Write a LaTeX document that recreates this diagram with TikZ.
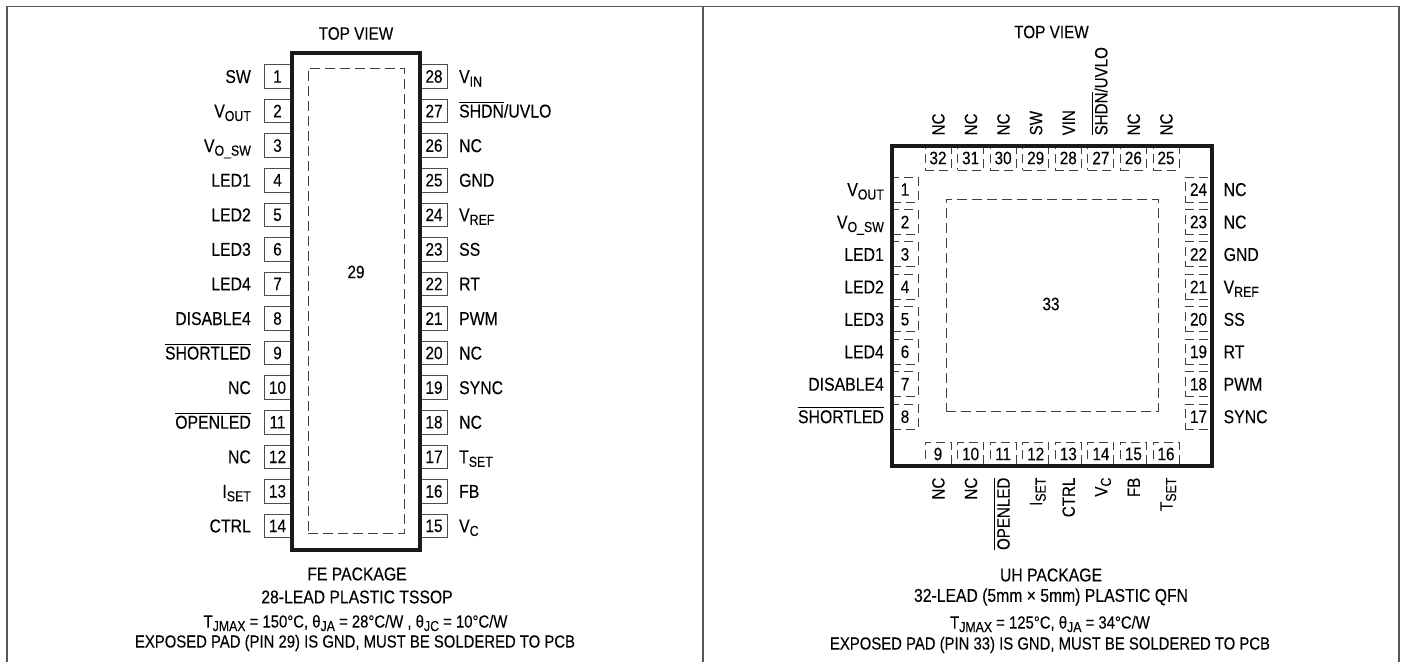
\documentclass[tikz,border=0pt]{standalone}
\usepackage{fontspec}
\usepackage{tikz}
\setmainfont[FakeStretch=0.85,FakeBold=0.12]{Liberation Sans}
\newsavebox{\barbox}
\newcommand{\pinsub}[1]{\raisebox{-3.5pt}{\fontsize{14.5}{15}\selectfont #1}}
\newcommand{\pinbar}[1]{\sbox{\barbox}{#1}\rlap{\rule[15pt]{\wd\barbox}{0.9pt}}#1}

\begin{document}
\begin{tikzpicture}[x=1pt,y=-1pt,
    every node/.style={font=\fontsize{18}{20}\selectfont, text=black},
    frameline/.style={draw=black!65, line width=1.4pt},
    pinlabel/.style={inner sep=0pt, text height=13pt, text depth=0pt, font=\fontsize{18.6}{20}\selectfont},
    felabel/.style={pinlabel, label distance=12.5pt},
    uhleft/.style={pinlabel, label distance=7.5pt},
    rightlabel/.style={pinlabel, label distance=11pt},
    uplabel/.style={pinlabel, rotate=90, anchor=west, xshift=10pt, font=\fontsize{17.8}{20}\selectfont},
    downlabel/.style={pinlabel, rotate=90, anchor=east, xshift=-11pt, font=\fontsize{17.8}{20}\selectfont},
    tssoppin/.style={rectangle, draw=black!70, line width=0.9pt, inner sep=0pt, minimum width=27pt, minimum height=23.5pt},
    qfnpin/.style={rectangle, draw=black!75, line width=0.9pt, dash pattern=on 9pt off 5pt, inner sep=0pt, minimum width=26pt, minimum height=25pt},
    qfnright/.style={qfnpin, minimum width=27pt},
    qfnedge/.style={qfnpin, minimum height=24pt},
    packagebody/.style={rectangle, draw=black!90, line width=3.6pt, inner sep=0pt},
    exposedpad/.style={rectangle, draw=black!75, line width=0.9pt, dash pattern=on 10pt off 5pt, inner sep=0pt},
    caption/.style={inner sep=0pt, font=\fontsize{18.5}{20}\selectfont},
    notetext/.style={inner sep=0pt, font=\fontsize{17.5}{20}\selectfont}]
   \useasboundingbox (0,0) rectangle (1403,662);
   % outer frame
   \draw[frameline] (7,662) -- (7,6.5) -- (1399,6.5) -- (1399,662);
   \draw[frameline] (703,6.5) -- (703,662);
   % FE package
   \node[inner sep=0pt] (FEview) at (356,33.5) {TOP VIEW};
   \node[tssoppin, label={[felabel]left:SW}] (P1) at (277.5,76.5) {1};
   \node[tssoppin, label={[felabel]left:{V\pinsub{OUT}}}] (P2) at (277.5,111) {2};
   \node[tssoppin, label={[felabel]left:{V\pinsub{O\_SW}}}] (P3) at (277.5,145.6) {3};
   \node[tssoppin, label={[felabel]left:LED1}] (P4) at (277.5,180.2) {4};
   \node[tssoppin, label={[felabel]left:LED2}] (P5) at (277.5,214.8) {5};
   \node[tssoppin, label={[felabel]left:LED3}] (P6) at (277.5,249.3) {6};
   \node[tssoppin, label={[felabel]left:LED4}] (P7) at (277.5,283.9) {7};
   \node[tssoppin, label={[felabel]left:DISABLE4}] (P8) at (277.5,318.5) {8};
   \node[tssoppin, label={[felabel]left:{\pinbar{SHORTLED}}}] (P9) at (277.5,353) {9};
   \node[tssoppin, label={[felabel]left:NC}] (P10) at (277.5,387.6) {10};
   \node[tssoppin, label={[felabel]left:{\pinbar{OPENLED}}}] (P11) at (277.5,422.2) {11};
   \node[tssoppin, label={[felabel]left:NC}] (P12) at (277.5,456.8) {12};
   \node[tssoppin, label={[felabel]left:{I\pinsub{SET}}}] (P13) at (277.5,491.3) {13};
   \node[tssoppin, label={[felabel]left:CTRL}] (P14) at (277.5,525.9) {14};
   \node[tssoppin, label={[rightlabel]right:{V\pinsub{C}}}] (P15) at (434,525.9) {15};
   \node[tssoppin, label={[rightlabel]right:FB}] (P16) at (434,491.3) {16};
   \node[tssoppin, label={[rightlabel]right:{T\pinsub{SET}}}] (P17) at (434,456.8) {17};
   \node[tssoppin, label={[rightlabel]right:NC}] (P18) at (434,422.2) {18};
   \node[tssoppin, label={[rightlabel]right:SYNC}] (P19) at (434,387.6) {19};
   \node[tssoppin, label={[rightlabel]right:NC}] (P20) at (434,353) {20};
   \node[tssoppin, label={[rightlabel]right:PWM}] (P21) at (434,318.5) {21};
   \node[tssoppin, label={[rightlabel]right:RT}] (P22) at (434,283.9) {22};
   \node[tssoppin, label={[rightlabel]right:SS}] (P23) at (434,249.3) {23};
   \node[tssoppin, label={[rightlabel]right:{V\pinsub{REF}}}] (P24) at (434,214.8) {24};
   \node[tssoppin, label={[rightlabel]right:GND}] (P25) at (434,180.2) {25};
   \node[tssoppin, label={[rightlabel]right:NC}] (P26) at (434,145.6) {26};
   \node[tssoppin, label={[rightlabel]right:{\pinbar{SHDN}/UVLO}}] (P27) at (434,111) {27};
   \node[tssoppin, label={[rightlabel]right:{V\pinsub{IN}}}] (P28) at (434,76.5) {28};
   \node[packagebody, minimum width=128pt, minimum height=497pt] (FEbody) at (356,301.5) {};
   \node[exposedpad, minimum width=96pt, minimum height=465pt] (FEpad) at (356,300.5) {};
   \node[inner sep=0pt] (FEnum) at (356,272) {29};
   \node[caption] (FEname) at (357,574) {FE PACKAGE};
   \node[caption] (FElead) at (357,597) {28-LEAD PLASTIC TSSOP};
   \node[notetext] (FEtherm) at (355.5,623) {T\pinsub{JMAX} = 150°C, θ\pinsub{JA} = 28°C/W , θ\pinsub{JC} = 10°C/W};
   \node[notetext] (FEnote) at (355,643) {EXPOSED PAD (PIN 29) IS GND, MUST BE SOLDERED TO PCB};
   % UH package
   \node[inner sep=0pt] (UHview) at (1051.5,32) {TOP VIEW};
   \node[qfnpin, label={[uhleft]left:{V\pinsub{OUT}}}] (Q1) at (905,189.5) {1};
   \node[qfnpin, label={[uhleft]left:{V\pinsub{O\_SW}}}] (Q2) at (905,222) {2};
   \node[qfnpin, label={[uhleft]left:LED1}] (Q3) at (905,254.4) {3};
   \node[qfnpin, label={[uhleft]left:LED2}] (Q4) at (905,286.9) {4};
   \node[qfnpin, label={[uhleft]left:LED3}] (Q5) at (905,319.3) {5};
   \node[qfnpin, label={[uhleft]left:LED4}] (Q6) at (905,351.8) {6};
   \node[qfnpin, label={[uhleft]left:DISABLE4}] (Q7) at (905,384.2) {7};
   \node[qfnpin, label={[uhleft]left:{\pinbar{SHORTLED}}}] (Q8) at (905,416.7) {8};
   \node[qfnedge, label={[downlabel]below:NC}] (Q9) at (938,454) {9};
   \node[qfnedge, label={[downlabel]below:NC}] (Q10) at (970.6,454) {10};
   \node[qfnedge, label={[downlabel]below:{\pinbar{OPENLED}}}] (Q11) at (1003.1,454) {11};
   \node[qfnedge, label={[downlabel]below:{I\pinsub{SET}}}] (Q12) at (1035.7,454) {12};
   \node[qfnedge, label={[downlabel]below:CTRL}] (Q13) at (1068.3,454) {13};
   \node[qfnedge, label={[downlabel]below:{V\pinsub{C}}}] (Q14) at (1100.9,454) {14};
   \node[qfnedge, label={[downlabel]below:FB}] (Q15) at (1133.4,454) {15};
   \node[qfnedge, label={[downlabel]below:{T\pinsub{SET}}}] (Q16) at (1166,454) {16};
   \node[qfnright, label={[rightlabel]right:SYNC}] (Q17) at (1198.5,416.7) {17};
   \node[qfnright, label={[rightlabel]right:PWM}] (Q18) at (1198.5,384.2) {18};
   \node[qfnright, label={[rightlabel]right:RT}] (Q19) at (1198.5,351.8) {19};
   \node[qfnright, label={[rightlabel]right:SS}] (Q20) at (1198.5,319.3) {20};
   \node[qfnright, label={[rightlabel]right:{V\pinsub{REF}}}] (Q21) at (1198.5,286.9) {21};
   \node[qfnright, label={[rightlabel]right:GND}] (Q22) at (1198.5,254.4) {22};
   \node[qfnright, label={[rightlabel]right:NC}] (Q23) at (1198.5,222) {23};
   \node[qfnright, label={[rightlabel]right:NC}] (Q24) at (1198.5,189.5) {24};
   \node[qfnedge, label={[uplabel]above:NC}] (Q25) at (1166,158) {25};
   \node[qfnedge, label={[uplabel]above:NC}] (Q26) at (1133.4,158) {26};
   \node[qfnedge, label={[uplabel]above:{\pinbar{SHDN}/UVLO}}] (Q27) at (1100.9,158) {27};
   \node[qfnedge, label={[uplabel]above:VIN}] (Q28) at (1068.3,158) {28};
   \node[qfnedge, label={[uplabel]above:SW}] (Q29) at (1035.7,158) {29};
   \node[qfnedge, label={[uplabel]above:NC}] (Q30) at (1003.1,158) {30};
   \node[qfnedge, label={[uplabel]above:NC}] (Q31) at (970.6,158) {31};
   \node[qfnedge, label={[uplabel]above:NC}] (Q32) at (938,158) {32};
   \node[packagebody, minimum width=320pt, minimum height=320pt] (UHbody) at (1052,306) {};
   \node[exposedpad, minimum width=212pt, minimum height=212pt] (UHpad) at (1052,305) {};
   \node[inner sep=0pt] (UHnum) at (1051,304) {33};
   \node[caption] (UHname) at (1051,575) {UH PACKAGE};
   \node[caption] (UHlead) at (1051,597) {32-LEAD (5mm × 5mm) PLASTIC QFN};
   \node[notetext] (UHtherm) at (1050,624) {T\pinsub{JMAX} = 125°C, θ\pinsub{JA} = 34°C/W};
   \node[notetext] (UHnote) at (1050,645) {EXPOSED PAD (PIN 33) IS GND, MUST BE SOLDERED TO PCB};
\end{tikzpicture}
\end{document}
